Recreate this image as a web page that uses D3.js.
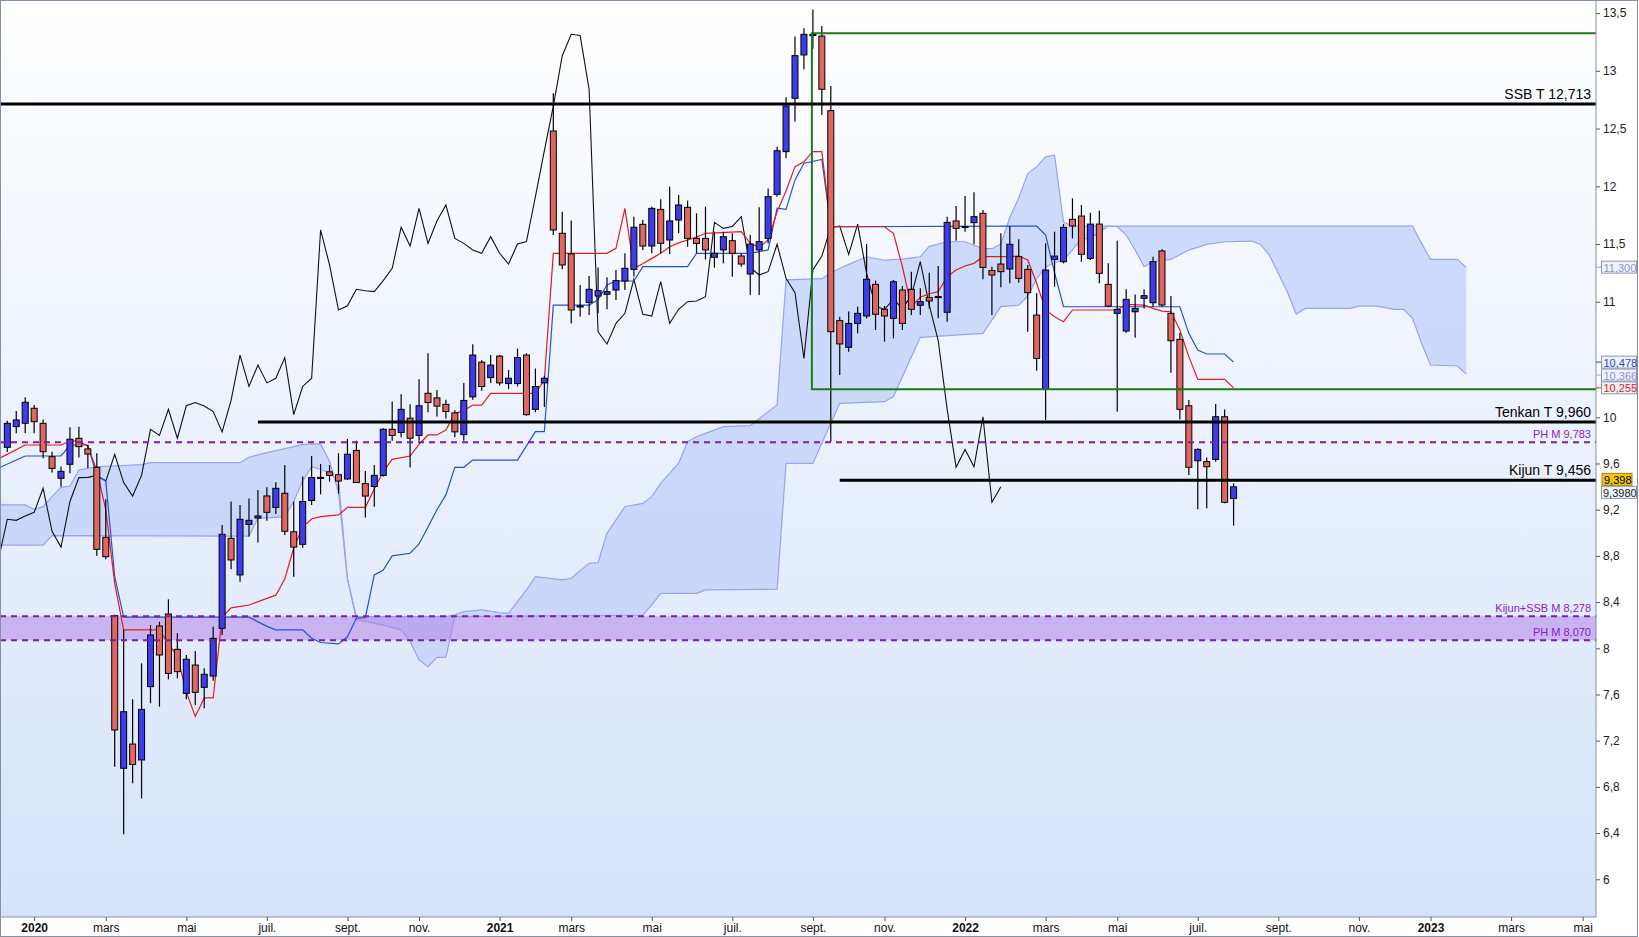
<!DOCTYPE html>
<html>
<head>
<meta charset="utf-8">
<script src="https://cdn.jsdelivr.net/npm/d3@7"></script>
<style>
body { margin: 0; background: #fff; }
text { font-family: "Liberation Sans", Arial, sans-serif; }
</style>
</head>
<body>
<script>
// weekly candles, bar 0 = week of 9 Dec 2019
var open = [9.74,9.919,9.948,10.078,9.948,9.659,9.472,9.593,9.818,9.726,9.567,8.961,8.283,6.961,7.171,7.033,7.668,8.193,8.297,7.991,
	7.61,7.855,7.662,7.76,8.173,8.952,8.635,9.073,9.128,9.319,9.22,9.342,9.009,8.90,9.28,9.47,9.528,9.503,9.466,9.713,
	9.426,9.401,9.497,9.896,9.868,9.992,9.843,10.208,10.168,10.112,10.038,9.85,10.177,10.477,10.344,10.53,10.292,10.292,10.539,10.069,
	10.298,12.479,11.593,11.414,10.955,10.995,11.05,11.065,11.102,11.18,11.281,11.671,11.483,11.8,11.535,11.708,11.818,11.549,11.549,11.385,
	11.449,11.529,11.397,11.241,11.449,11.549,11.93,12.3,12.762,13.137,13.315,13.301,12.655,10.837,10.606,10.813,10.877,11.151,10.935,10.857,
	11.102,11.108,10.97,11.036,11.045,10.909,11.7,11.65,11.685,11.766,11.27,11.327,11.284,11.391,11.281,10.885,10.242,11.367,11.347,11.714,
	11.743,11.376,11.673,11.151,10.9,10.747,10.914,11.03,10.992,11.44,10.9,10.675,10.1,9.624,9.616,9.636,10.005,9.298];
var high = [9.97,10.055,10.173,10.107,9.982,9.702,9.573,9.913,9.919,9.76,9.688,9.29,8.29,8.16,7.558,7.87,8.202,8.23,8.424,8.13,
	7.942,7.977,7.827,8.187,9.067,9.27,9.241,9.298,9.37,9.394,9.437,9.587,9.27,9.488,9.664,9.596,9.587,9.689,9.812,9.797,
	9.534,9.587,9.905,10.137,10.199,10.112,10.329,10.555,10.236,10.153,10.06,10.298,10.632,10.493,10.539,10.539,10.409,10.595,10.555,10.422,
	10.36,12.805,11.78,11.703,11.145,11.223,11.296,11.212,11.275,11.42,11.737,11.708,11.824,11.887,11.997,11.925,11.876,11.766,11.824,11.607,
	11.607,11.593,11.42,11.578,11.818,11.982,12.343,12.77,13.296,13.368,13.53,13.388,12.868,10.87,10.915,10.958,11.5,11.183,10.964,11.189,
	11.137,11.261,11.117,11.252,11.31,11.737,11.829,11.916,11.948,11.795,11.304,11.593,11.657,11.541,11.319,11.073,11.506,11.607,11.673,11.896,
	11.838,11.771,11.789,11.333,11.529,11.108,11.064,11.108,11.39,11.454,11.05,10.73,10.15,9.731,9.653,10.115,10.068,9.428];
var low = [9.70,9.861,9.861,9.861,9.645,9.521,9.399,9.515,9.653,9.558,8.802,8.77,6.975,6.39,6.831,6.70,7.524,7.495,7.731,7.74,
	7.558,7.51,7.48,7.72,8.115,8.684,8.577,8.967,8.915,9.105,9.163,8.981,8.62,8.87,9.24,9.333,9.442,9.339,9.457,9.432,
	9.132,9.225,9.488,9.797,9.828,9.565,9.797,10.044,10.007,9.989,9.828,9.797,10.153,10.23,10.298,10.276,10.245,10.267,10.013,10.044,
	10.09,11.578,11.281,10.813,10.871,10.886,10.9,10.935,11.016,11.102,11.218,11.449,11.42,11.42,11.414,11.593,11.477,11.42,11.368,11.296,
	11.333,11.217,11.304,11.059,11.059,11.506,11.91,12.242,12.56,13.013,13.19,12.617,9.789,10.366,10.568,10.727,10.857,10.756,10.655,10.684,
	10.756,10.886,10.886,10.943,10.857,10.828,11.529,11.607,11.498,11.195,10.886,11.125,11.16,11.166,10.741,10.403,9.976,11.131,11.333,11.549,
	11.347,11.362,11.16,10.958,10.049,10.733,10.689,10.943,10.957,10.957,10.386,9.982,9.5,9.203,9.212,9.616,9.255,9.062];
var close = [9.948,9.977,10.13,9.962,9.702,9.558,9.532,9.81,9.746,9.682,8.857,8.793,7.293,7.451,6.995,7.471,8.115,7.942,7.783,7.798,
	7.905,7.619,7.775,8.086,8.987,8.765,9.117,9.108,9.146,9.177,9.385,9.013,8.876,9.271,9.478,9.48,9.497,9.448,9.68,9.435,
	9.318,9.497,9.896,9.843,10.069,9.819,10.1,10.128,10.097,10.05,9.874,10.146,10.539,10.267,10.452,10.298,10.338,10.517,10.023,10.267,
	10.338,11.622,11.319,10.929,10.965,11.108,11.096,11.088,11.183,11.29,11.645,11.483,11.809,11.506,11.7,11.838,11.549,11.506,11.449,11.42,
	11.564,11.42,11.327,11.5,11.521,11.91,12.308,12.695,13.131,13.316,13.305,12.84,10.741,10.635,10.813,10.9,11.195,10.892,10.877,11.174,
	10.813,10.935,11.001,11.007,11.044,11.688,11.636,11.652,11.737,11.298,11.232,11.261,11.498,11.203,11.079,10.51,11.275,11.396,11.644,11.656,
	11.411,11.673,11.246,10.963,10.934,11.021,10.943,11.053,11.347,10.972,10.663,10.069,9.567,9.722,9.572,10.005,9.264,9.398];

// indicator lines as [bar, value] vertices
var tenkan = [[-1,9.64],[2,9.76],[6,9.76],[7,9.795],[8,9.795],[9,9.75],[10,9.54],[11,9.2],[12,8.56],[13,8.16],[17,8.16],[18,8.04],[19,7.93],[20,7.62],[21,7.41],[22,7.57],[23,7.57],[24,8.27],[25,8.35],[27,8.375],[30,8.46],[31,8.6],[32,8.87],[33,9.05],[34,9.12],[35,9.14],[37,9.155],[38,9.221],[40,9.221],[41,9.38],[42,9.53],[43,9.636],[45,9.665],[46,9.766],[47,9.847],[48,9.847],[49,9.89],[50,10.03],[51,10.06],[52,10.106],[53,10.106],[54,10.208],[59,10.208],[60,10.323],[61,11.42],[67,11.42],[68,11.463],[69,11.809],[70,11.29],[71,11.33],[72,11.376],[73,11.42],[74,11.477],[75,11.51],[76,11.535],[77,11.56],[78,11.593],[82,11.607],[83,11.506],[84,11.471],[85,11.535],[86,11.78],[87,11.96],[88,12.17],[89,12.213],[90,12.3],[91,12.3],[92,11.65],[98,11.65],[99,11.593],[100,11.304],[101,10.958],[102,11.04],[103,11.07],[104,11.088],[105,11.218],[106,11.275],[107,11.31],[108,11.333],[109,11.391],[112,11.391],[113,11.396],[114,11.362],[115,11.16],[116,10.929],[117,10.871],[118,10.828],[119,10.929],[124,10.929],[125,10.978],[127,10.972],[128,10.943],[129,10.92],[130,10.914],[131,10.756],[132,10.525],[133,10.328],[136,10.328],[137,10.255]];
var kijun = [[-1,9.56],[2,9.665],[6,9.665],[7,9.76],[9,9.76],[10,9.49],[11,9.45],[12,8.62],[13,8.27],[27,8.27],[29,8.19],[30,8.16],[33,8.159],[34,8.087],[35,8.05],[37,8.038],[38,8.1],[39,8.26],[40,8.266],[41,8.635],[42,8.678],[43,8.8],[45,8.823],[46,8.903],[47,9.05],[48,9.2],[49,9.328],[50,9.567],[51,9.567],[52,9.63],[57,9.63],[59,9.876],[60,9.876],[61,10.972],[65,10.972],[66,11.02],[67,11.146],[68,11.18],[70,11.18],[71,11.304],[76,11.304],[77,11.42],[83,11.42],[85,11.449],[86,11.81],[87,11.8],[88,12.055],[89,12.2],[91,12.233],[92,11.65],[115,11.656],[116,11.578],[117,11.25],[118,10.957],[131,10.957],[132,10.727],[133,10.582],[134,10.548],[136,10.548],[137,10.478]];
var cloudA = [[-1,9.241],[2,9.241],[3,9.203],[4,9.226],[5,9.313],[6,9.394],[7,9.405],[8,9.544],[10,9.572],[15,9.59],[16,9.607],[26,9.607],[27,9.654],[29,9.694],[32,9.746],[33,9.766],[35,9.77],[36,9.62],[37,9.35],[38,8.6],[39,8.274],[49,8.274],[50,8.29],[51,8.318],[53,8.332],[55,8.309],[56,8.303],[57,8.404],[58,8.505],[59,8.62],[62,8.592],[63,8.606],[65,8.735],[66,8.741],[67,8.995],[69,9.226],[71,9.255],[72,9.313],[73,9.428],[74,9.515],[75,9.602],[76,9.789],[77,9.832],[78,9.861],[80,9.919],[83,9.928],[86,10.106],[87,11.19],[91,11.2],[92,11.25],[93,11.29],[94,11.324],[96,11.39],[98,11.36],[100,11.37],[102,11.39],[103,11.48],[105,11.52],[107,11.52],[108,11.49],[109,11.46],[110,11.46],[111,11.5],[112,11.73],[113,11.9],[114,12.11],[115,12.17],[116,12.256],[117,12.27],[118,11.69],[119,11.656],[157,11.656],[158,11.506],[159,11.367],[162,11.367],[163,11.298]];
var cloudB = [[-1,8.894],[4,8.894],[5,8.975],[27,8.972],[28,9.125],[31,9.14],[32,9.27],[33,9.45],[34,9.57],[35,9.55],[36,9.515],[37,9.457],[38,8.6],[39,8.25],[42,8.2],[44,8.16],[45,8.06],[46,7.899],[47,7.841],[48,7.922],[49,7.922],[50,8.274],[71,8.288],[72,8.375],[73,8.476],[77,8.476],[78,8.505],[86,8.511],[87,9.601],[90,9.601],[91,9.775],[93,10.121],[98,10.135],[99,10.18],[102,10.692],[109,10.727],[111,10.958],[113,10.97],[114,11.05],[115,11.2],[116,11.3],[117,11.34],[118,11.36],[119,11.45],[120,11.54],[121,11.55],[122,11.6],[123,11.656],[124,11.65],[125,11.578],[126,11.448],[127,11.304],[128,11.347],[130,11.367],[132,11.448],[134,11.497],[136,11.52],[139,11.526],[140,11.497],[141,11.405],[142,11.246],[143,11.087],[144,10.894],[145,10.943],[150,10.943],[151,10.963],[153,10.963],[155,10.934],[156,10.934],[157,10.857],[158,10.64],[159,10.453],[162,10.444],[163,10.375]];

// horizontal levels
var blackNames = ["SSB T", "Tenkan T", "Kijun T"];
var blackValues = [12.713, 9.96, 9.456];
var blackStart = [-1, 28, 93];
var purpleNames = ["PH M", "Kijun+SSB M", "PH M"];
var purpleValues = [9.783, 8.278, 8.07];
var boxTop = 13.325, boxBottom = 10.242, boxStart = 90;

// axis ticks
var yTicks = [13.5, 13, 12.5, 12, 11.5, 11, 10, 9.6, 9.2, 8.8, 8.4, 8, 7.6, 7.2, 6.8, 6.4, 6];
var xTickBars = [3, 11, 20, 29, 38, 46, 55, 63, 72, 81, 90, 98, 107, 116, 124, 133, 142, 151, 159, 168, 176];
var xTickLabels = ["2020","mars","mai","juil.","sept.","nov.","2021","mars","mai","juil.","sept.","nov.","2022","mars","mai","juil.","sept.","nov.","2023","mars","mai"];

// last values shown on the price axis
var tagValues = [11.3, 10.478, 10.366, 10.255];
var tagColors = ["#8b95d6", "#1f45d8", "#8b95d6", "#e01818"];
var lastPrice = 9.398;

var width = 1639, height = 937;
var plotW = 1596, plotH = 917;

var svg = d3.select("body").append("svg")
	.attr("width", width)
	.attr("height", height);

var x = d3.scaleLinear().domain([0, 160]).range([7.3, 7.3 + 160 * 8.951]);
var y = d3.scaleLinear().domain([10, 6]).range([417.3, 879.3]);
var fr = function(v, p){ return d3.format("." + p + "f")(v).replace(".", ","); };

var defs = svg.append("defs");
var grad = defs.append("linearGradient").attr("id", "bg")
	.attr("x1", 0).attr("y1", 0).attr("x2", 0).attr("y2", 1);
grad.append("stop").attr("offset", "0%").attr("stop-color", "#ffffff");
grad.append("stop").attr("offset", "100%").attr("stop-color", "#d5e2fa");
defs.append("clipPath").attr("id", "clip")
	.append("rect").attr("width", plotW).attr("height", plotH);

svg.append("rect").attr("width", width).attr("height", height).attr("fill", "#fff");
svg.append("rect").attr("width", plotW).attr("height", plotH).attr("fill", "url(#bg)");

var plot = svg.append("g").attr("clip-path", "url(#clip)");

var line = d3.line()
	.x(function(d){ return x(d[0]); })
	.y(function(d){ return y(d[1]); });

// cloud
plot.append("path")
	.attr("d", line(cloudA.concat(cloudB.slice().reverse())) + "Z")
	.attr("fill", "#bfd0fa")
	.attr("fill-opacity", 0.75);
[cloudA, cloudB].forEach(function(s){
	plot.append("path").attr("d", line(s))
		.attr("fill", "none").attr("stroke", "#98a3ea").attr("stroke-width", 1.2);
});

// purple band between the monthly levels
plot.append("rect")
	.attr("x", 0).attr("width", plotW)
	.attr("y", y(purpleValues[1]))
	.attr("height", y(purpleValues[2]) - y(purpleValues[1]))
	.attr("fill", "#b07ee8").attr("fill-opacity", 0.5);

// chikou = close shifted 26 bars back
var chikou = close.map(function(c, i){ return [i - 26, c]; }).filter(function(d){ return d[0] >= -1; });
plot.append("path").attr("d", line(chikou))
	.attr("fill", "none").attr("stroke", "#111").attr("stroke-width", 1.1);
plot.append("path").attr("d", line(kijun))
	.attr("fill", "none").attr("stroke", "#2450d6").attr("stroke-width", 1.2);
plot.append("path").attr("d", line(tenkan))
	.attr("fill", "none").attr("stroke", "#e41c1c").attr("stroke-width", 1.2);

// candles
var bars = d3.range(open.length);
plot.selectAll(".wick")
	.data(bars)
	.enter()
	.append("line")
		.attr("class", "wick")
		.attr("x1", function(i){ return x(i); })
		.attr("x2", function(i){ return x(i); })
		.attr("y1", function(i){ return y(high[i]); })
		.attr("y2", function(i){ return y(low[i]); })
		.attr("stroke", "#000")
		.attr("stroke-width", 1.2);
plot.selectAll(".body")
	.data(bars)
	.enter()
	.append("rect")
		.attr("class", "body")
		.attr("x", function(i){ return x(i) - 3; })
		.attr("width", 6)
		.attr("y", function(i){ return y(Math.max(open[i], close[i])); })
		.attr("height", function(i){ return Math.max(1, Math.abs(y(open[i]) - y(close[i]))); })
		.attr("fill", function(i){
			if (close[i] >= open[i]){
				return "#3d3ded";
			}
			else{
				return "#e0675f";
			}
		})
		.attr("stroke", "#000")
		.attr("stroke-width", 1);

// green box
plot.append("path")
	.attr("d", "M" + plotW + "," + y(boxTop) + "H" + (x(boxStart) - 1) + "V" + y(boxBottom) + "H" + plotW)
	.attr("fill", "none").attr("stroke", "#1d7a1d").attr("stroke-width", 2);

// purple dashed levels
purpleValues.forEach(function(v, k){
	plot.append("line")
		.attr("x1", 0).attr("x2", plotW)
		.attr("y1", y(v)).attr("y2", y(v))
		.attr("stroke", "#7a1fa6").attr("stroke-width", 2)
		.attr("stroke-dasharray", "6,5");
	plot.append("text")
		.attr("x", 1591).attr("y", y(v) - 4)
		.attr("text-anchor", "end")
		.attr("font-size", 11)
		.attr("fill", "#8a22c0")
		.text(purpleNames[k] + " " + fr(v, 3));
});

// black levels
blackValues.forEach(function(v, k){
	plot.append("line")
		.attr("x1", x(blackStart[k])).attr("x2", plotW)
		.attr("y1", y(v)).attr("y2", y(v))
		.attr("stroke", "#000").attr("stroke-width", 3);
	plot.append("text")
		.attr("x", 1591).attr("y", y(v) - 5)
		.attr("text-anchor", "end")
		.attr("font-size", 14)
		.attr("fill", "#000")
		.text(blackNames[k] + " " + fr(v, 3));
});

// frame
svg.append("path")
	.attr("d", "M" + plotW + ",0V" + plotH + "H0")
	.attr("fill", "none").attr("stroke", "#8391a8").attr("stroke-width", 1);
svg.append("rect")
	.attr("x", 0.5).attr("y", 0.5).attr("width", width - 2).attr("height", height - 1)
	.attr("fill", "none").attr("stroke", "#8391a8");

// price axis
var yAxis = svg.append("g")
	.attr("transform", "translate(" + plotW + ",0)")
	.call(d3.axisRight(y).tickValues(yTicks).tickSize(4).tickPadding(3)
		.tickFormat(function(v){ return String(v).replace(".", ","); }));
yAxis.select(".domain").remove();
yAxis.selectAll("line").attr("stroke", "#555");
yAxis.selectAll("text").attr("font-size", 12).attr("fill", "#222")
	.attr("font-family", "Liberation Sans, Arial, sans-serif");

// time axis
var xAxis = svg.append("g")
	.attr("transform", "translate(0," + plotH + ")")
	.call(d3.axisBottom(x).tickValues(xTickBars).tickSize(4).tickPadding(2)
		.tickFormat(function(d, k){ return xTickLabels[k]; }));
xAxis.select(".domain").remove();
xAxis.selectAll("line").attr("stroke", "#555");
xAxis.selectAll("text")
	.attr("font-size", 12).attr("fill", "#111")
	.attr("font-family", "Liberation Sans, Arial, sans-serif")
	.attr("font-weight", function(d, k){ return /^\d+$/.test(xTickLabels[k]) ? "bold" : "normal"; });

// value tags on the price axis
tagValues.forEach(function(v, k){
	svg.append("line")
		.attr("x1", plotW).attr("x2", plotW + 5)
		.attr("y1", y(v)).attr("y2", y(v))
		.attr("stroke", tagColors[k]);
	svg.append("rect")
		.attr("x", 1601.5).attr("y", y(v) - 6).attr("width", 35).attr("height", 12)
		.attr("fill", "#eef2f9").attr("stroke", "#8a98b0");
	svg.append("text")
		.attr("x", 1603.5).attr("y", y(v) + 4.5)
		.attr("font-size", 11).attr("fill", tagColors[k])
		.text(fr(v, 3));
});
svg.append("rect")
	.attr("x", 1602).attr("y", y(lastPrice) - 13.5).attr("width", 30).attr("height", 12)
	.attr("fill", "#f4c414").attr("stroke", "#a3840a");
svg.append("text")
	.attr("x", 1604).attr("y", y(lastPrice) - 3)
	.attr("font-size", 11).attr("fill", "#000")
	.text(fr(lastPrice, 3));
svg.append("rect")
	.attr("x", 1601.5).attr("y", y(lastPrice) - 0.5).attr("width", 35).attr("height", 12)
	.attr("fill", "#eef2f9").attr("stroke", "#8a98b0");
svg.append("text")
	.attr("x", 1603).attr("y", y(lastPrice) + 10)
	.attr("font-size", 11).attr("fill", "#222")
	.text(fr(lastPrice, 4));
</script>
</body>
</html>
